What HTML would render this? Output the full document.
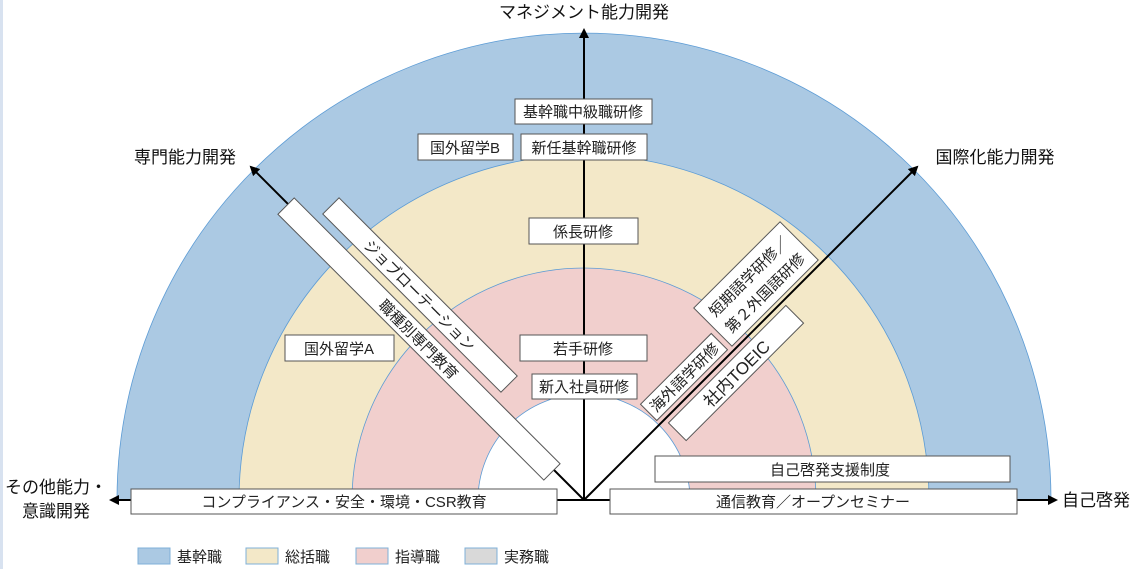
<!DOCTYPE html>
<html><head><meta charset="utf-8"><style>
html,body{margin:0;padding:0;background:#fff;}
svg{display:block;font-family:"Liberation Sans","Noto Sans CJK JP",sans-serif;}
</style></head><body>
<svg width="1141" height="569" viewBox="0 0 1141 569" xmlns="http://www.w3.org/2000/svg">
<defs><marker id="ah" markerWidth="10" markerHeight="10" refX="8" refY="5" orient="auto" markerUnits="userSpaceOnUse"><path d="M0,0 L10,5 L0,10 z" fill="#000"/></marker></defs>
<rect x="0" y="0" width="3" height="569" fill="#d8e2f0"/>
<path d="M117,500 A467,467 0 0 1 1051,500 Z" fill="#abc9e3" stroke="#5b9bd5" stroke-width="0.8"/>
<path d="M239,500 A345,345 0 0 1 929,500 Z" fill="#f3e8c8" stroke="#5b9bd5" stroke-width="0.8"/>
<path d="M352,500 A232,232 0 0 1 816,500 Z" fill="#f1cfcd" stroke="#5b9bd5" stroke-width="0.8"/>
<path d="M478,500 A106,106 0 0 1 690,500 Z" fill="#fff" stroke="#5b9bd5" stroke-width="0.8"/>
<g stroke="#000" stroke-width="2" fill="none">
<line x1="584" y1="500" x2="584" y2="30" marker-end="url(#ah)"/>
<line x1="584" y1="500" x2="251" y2="167" marker-end="url(#ah)"/>
<line x1="584" y1="500" x2="917" y2="167" marker-end="url(#ah)"/>
<line x1="584" y1="500" x2="111" y2="500" marker-end="url(#ah)"/>
<line x1="584" y1="500" x2="1056" y2="500" marker-end="url(#ah)"/>
</g>
<g font-size="15" fill="#222">
<g stroke="#555" stroke-width="1" fill="#fff">
<rect x="515" y="99" width="137" height="25"/>
<rect x="521" y="134" width="126" height="26"/>
<rect x="418" y="134" width="95" height="26"/>
<rect x="529" y="218" width="109" height="26"/>
<rect x="520" y="335" width="127" height="26"/>
<rect x="532" y="374" width="105" height="25"/>
<rect x="285" y="335" width="109" height="26"/>
<rect x="655" y="456" width="355" height="26"/>
<rect x="610" y="489" width="407" height="25"/>
<rect x="131" y="489" width="426" height="25"/>
</g>
<g text-anchor="middle" fill="#222">
<text x="583" y="117">基幹職中級職研修</text>
<text x="584" y="153">新任基幹職研修</text>
<text x="465" y="153">国外留学B</text>
<text x="583" y="237">係長研修</text>
<text x="583" y="354">若手研修</text>
<text x="584" y="392">新入社員研修</text>
<text x="339" y="354">国外留学A</text>
<text x="830" y="475">自己啓発支援制度</text>
<text x="813" y="507">通信教育／オープンセミナー</text>
<text x="344" y="507">コンプライアンス・安全・環境・CSR教育</text>
</g>
<g transform="translate(419,339) rotate(45)">
<rect x="-188" y="-11.5" width="376" height="23" fill="#fff" stroke="#555"/>
<text x="0" y="6" text-anchor="middle">職種別専門教育</text>
</g>
<g transform="translate(420,295) rotate(45)">
<rect x="-126" y="-11.5" width="252" height="23" fill="#fff" stroke="#555"/>
<text x="0" y="6" text-anchor="middle">ジョブローテーション</text>
</g>
<g transform="translate(756,284) rotate(-45)">
<rect x="-61" y="-27" width="122" height="54" fill="#fff" stroke="#555"/>
<text x="0" y="-5" text-anchor="middle">短期語学研修／</text>
<text x="0" y="18" text-anchor="middle">第２外国語研修</text>
</g>
<g transform="translate(684,377) rotate(-45)">
<rect x="-50" y="-11.5" width="100" height="23" fill="#fff" stroke="#555"/>
<text x="0" y="6" text-anchor="middle">海外語学研修</text>
</g>
<g transform="translate(736,373) rotate(-45)">
<rect x="-83" y="-12.5" width="166" height="25" fill="#fff" stroke="#555"/>
<text x="0" y="7" text-anchor="middle" font-size="17">社内TOEIC</text>
</g>
</g>
<g font-size="17" fill="#111">
<text x="584" y="18" text-anchor="middle">マネジメント能力開発</text>
<text x="185" y="163" text-anchor="middle">専門能力開発</text>
<text x="995" y="163" text-anchor="middle">国際化能力開発</text>
<text x="1062" y="506">自己啓発</text>
<text x="56" y="493" text-anchor="middle">その他能力・</text>
<text x="56" y="517" text-anchor="middle">意識開発</text>
</g>
<g font-size="15" fill="#222">
<rect x="138" y="548" width="32" height="16" fill="#abc9e3" stroke="#7fb0d8"/>
<text x="177" y="562">基幹職</text>
<rect x="246" y="548" width="32" height="16" fill="#f3e8c8" stroke="#7fb0d8"/>
<text x="285" y="562">総括職</text>
<rect x="356" y="548" width="32" height="16" fill="#f1cfcd" stroke="#7fb0d8"/>
<text x="395" y="562">指導職</text>
<rect x="465" y="548" width="32" height="16" fill="#d9d9d9" stroke="#7fb0d8"/>
<text x="504" y="562">実務職</text>
</g>
</svg>
</body></html>
